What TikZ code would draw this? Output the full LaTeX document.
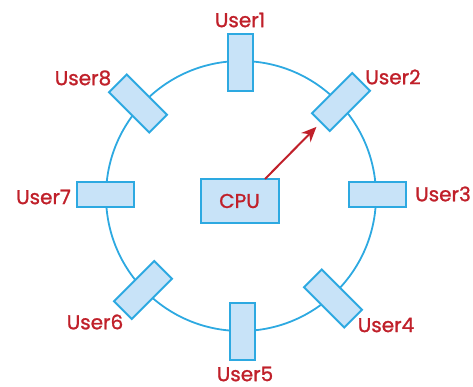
\documentclass[tikz,border=0pt]{standalone}
\usepackage{fontspec}
\newfontfamily\labfont{Poppins}[FakeBold=1.2]
\usetikzlibrary{calc,arrows.meta}
\definecolor{ringblue}{HTML}{2DA9E1}
\definecolor{boxfill}{HTML}{C8E3F8}
\definecolor{labred}{HTML}{C0202A}
\begin{document}
\begin{tikzpicture}[x=1pt,y=-1pt,
  ring/.style={draw=ringblue,line width=1.8pt},
  ubox/.style={draw=ringblue,fill=boxfill,line width=2pt,inner sep=0pt,minimum width=57pt,minimum height=25pt},
  cpubox/.style={draw=ringblue,fill=boxfill,line width=2pt,inner sep=0pt,minimum width=78pt,minimum height=43pt,text=labred,font=\labfont\fontsize{20}{23}\selectfont},
  ulabel/.style={text=labred,font=\labfont\fontsize{20}{23}\selectfont,inner sep=0pt},
  link/.style={draw=labred,line width=2pt,-{Stealth[length=15pt,width=13pt]}}]
\useasboundingbox (0,0) rectangle (473,387);
\node[ring,circle,minimum size=270pt,inner sep=0pt] (ring) at (241,196) {};
\node[ubox,rotate=90] (u1) at (240,62.5) {};
\node[ubox,rotate=45] (u2) at (341,102) {};
\node[ubox] (u3) at (377,195) {};
\node[ubox,rotate=-45] (u4) at (333,298.5) {};
\node[ubox,rotate=90] (u5) at (242,331) {};
\node[ubox,rotate=45] (u6) at (143,290) {};
\node[ubox] (u7) at (105,195) {};
\node[ubox,rotate=-45] (u8) at (138,103.5) {};
\node[cpubox] (cpu) at (239.5,201) {CPU};
\node[ulabel] (l1) at (240,20) {User1};
\node[ulabel] (l2) at (393,77) {User2};
\node[ulabel] (l3) at (443,194) {User3};
\node[ulabel] (l4) at (386,325) {User4};
\node[ulabel] (l5) at (245,374) {User5};
\node[ulabel] (l6) at (95,322) {User6};
\node[ulabel] (l7) at (43.5,197) {User7};
\node[ulabel] (l8) at (83,78) {User8};
\coordinate (as) at (265,179);
\draw[link] (as) -- ($(u2.center)!35pt!(as)$);
\end{tikzpicture}
\end{document}
